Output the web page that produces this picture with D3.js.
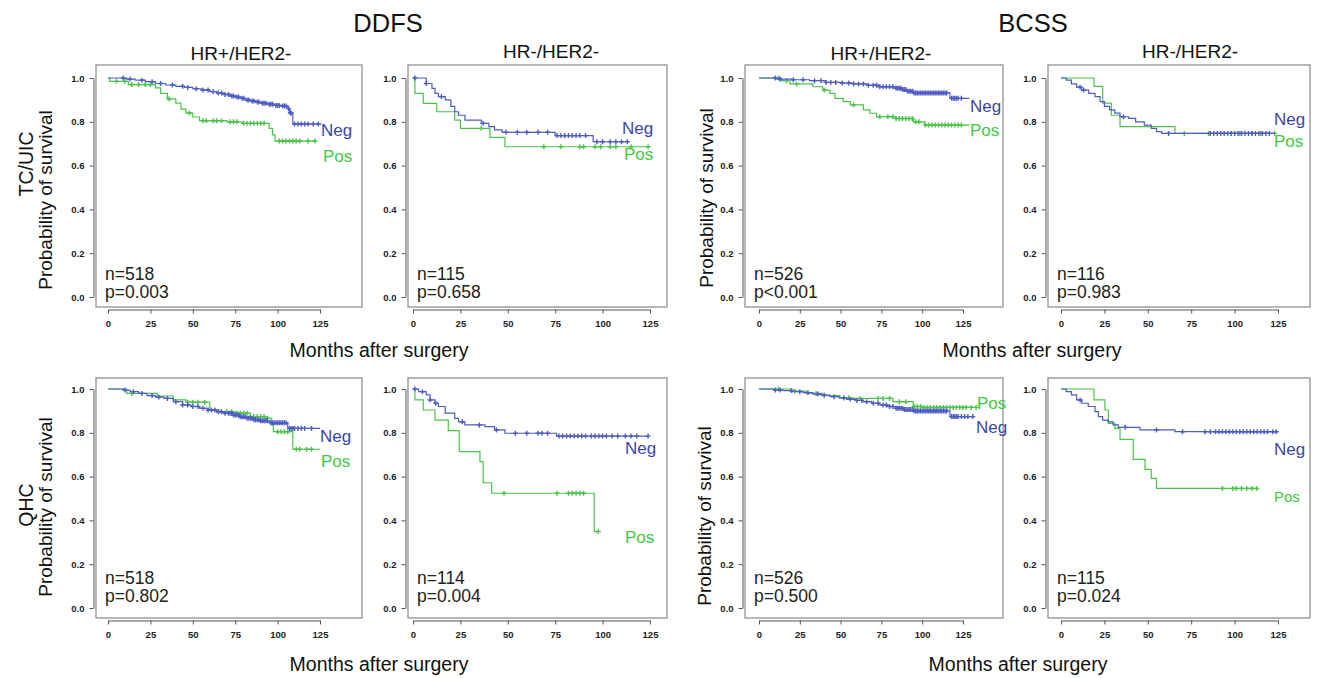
<!DOCTYPE html>
<html>
<head>
<meta charset="utf-8">
<script src="https://cdn.jsdelivr.net/npm/d3@7"></script>
<style>
  body { margin: 0; background: #fff; }
  text { font-family: "Liberation Sans", Arial, sans-serif; }
  .axis text { font-weight: bold; font-size: 9.5px; fill: #222; }
  .axis path, .axis line { stroke: #555; }
</style>
</head>
<body>
<div id="chart"></div>
<script>

// ---- data: step points [month, survival], then censor months ----
var p1Neg = [[0,1],[11,0.995],[16,0.99],[22,0.983],[28,0.975],[34,0.968],[40,0.962],[45,0.957],[50,0.951],[55,0.945],[60,0.938],[64,0.931],[68,0.925],[72,0.918],[75,0.913],[78,0.907],[81,0.9],[84,0.895],[87,0.89],[90,0.885],[94,0.88],[98,0.875],[102,0.872],[106,0.86],[107,0.84],[109,0.79],[126,0.79]];
var p1NegCens = [9,13,20,26,31,38,44,47,52,56,59,62,65,67,69,71,73,74,76,77,79,80,82,83,85,86,88,89,91,92,93,95,96,97,99,100,101,103,104,105,106.5,107.5,108,110,112,114,116,118,121,124];
var p1Pos = [[0,1],[1,0.985],[12,0.97],[28,0.955],[31,0.93],[35,0.905],[40,0.885],[43,0.858],[46,0.84],[50,0.822],[54,0.805],[70,0.8],[79,0.793],[95,0.77],[97,0.74],[98.5,0.712],[122,0.712]];
var p1PosCens = [5,10,14,18,22,25,36,48,56,58,62,64,67,72,74,76,80,82,84,86,88,90,92,101,103,105,107,109,111,113,118,122];

var p2Neg = [[0,1],[7,0.975],[10,0.953],[11.6,0.93],[13.4,0.915],[17,0.9],[20,0.87],[22,0.846],[24,0.83],[27.4,0.808],[36,0.793],[40,0.778],[43,0.763],[47,0.752],[75,0.737],[95,0.709],[113.5,0.709]];
var p2NegCens = [1,7,15,37,49,55,60,66,71,76,78,80,82,84,86,88,91,97,100,104,107,110,113];
var p2Pos = [[0,1],[1,0.93],[5.4,0.884],[12.5,0.846],[22,0.808],[25,0.77],[40.6,0.729],[48.5,0.686],[124,0.686]];
var p2PosCens = [36,69,78,88,90,96,99,104,107,115,124];

var p3Neg = [[0,1],[11,0.995],[20,0.992],[31,0.988],[41,0.98],[50,0.977],[58,0.973],[66,0.967],[74,0.96],[84,0.953],[88,0.947],[91,0.94],[94.5,0.932],[116,0.932],[117,0.907],[129,0.907]];
var p3NegCens = [10,13,21,27,34,38,41,44,47,51,55,58,61,64,67,70,72,74,76,78,80,82,84,85,86,87,88,89,90,91,92,93,94,95,96,97,98,99,100,101,102,103,104,105,106,107,108,109,110,111,112,113,114,115,118,119,120,121,122,124];
var p3Pos = [[0,1],[13,0.988],[19,0.973],[33,0.96],[39,0.945],[43.5,0.93],[46.5,0.907],[51.6,0.892],[56,0.877],[64,0.854],[68,0.839],[72,0.823],[84,0.815],[94.5,0.8],[101.6,0.785],[129,0.785]];
var p3PosCens = [12,17,23,40,58,74,79,82,84,86,88,90,92,94,96,98,102,104,106,108,110,112,114,116,118,120,122,124];

var p4Neg = [[0,1],[3,0.99],[6,0.973],[9,0.958],[12,0.945],[16,0.93],[19.6,0.915],[22.5,0.892],[25,0.87],[28,0.854],[31,0.84],[34,0.823],[39,0.816],[43,0.8],[48,0.785],[52,0.77],[55,0.755],[58,0.747],[123,0.747]];
var p4NegCens = [11,13,36,62,86,88,90,92,94,96,98,100,102,104,106,108,110,112,114,116,118,120];
var p4Pos = [[0,1],[19,0.962],[24,0.885],[29,0.83],[34,0.778],[65.6,0.747],[123,0.747]];
var p4PosCens = [71,85,98,103,110,115,123];

var p5Neg = [[0,1],[9,0.995],[13,0.988],[18,0.98],[23,0.97],[28,0.963],[33,0.957],[38.5,0.942],[44,0.927],[49,0.92],[54,0.912],[59,0.904],[64,0.896],[69,0.889],[74,0.881],[78,0.873],[82,0.866],[86,0.86],[90,0.855],[95.5,0.846],[106,0.82],[125,0.82]];
var p5NegCens = [10,15,20,26,30,35,40,44,47,50,53,56,59,61,63,65,67,69,71,72,73,74,75,76,77,78,79,80,81,82,83,84,85,86,87,88,89,90,91,92,93,94,96,97,98,99,100,101,102,103,104,105,107,108,109,110,112,114,116,120];
var p5Pos = [[0,1],[11,0.98],[29,0.968],[38.5,0.95],[46,0.94],[60,0.904],[66,0.896],[76,0.889],[84,0.874],[93.5,0.866],[96.5,0.836],[97.5,0.805],[109,0.725],[125,0.725]];
var p5PosCens = [14,47,50,53,57,70,73,76,78,80,82,84,86,88,90,92,94,100,102,104,106,111,113,117,120];

var p6Neg = [[0,1],[3,0.988],[7,0.973],[9,0.95],[11.6,0.935],[13.4,0.92],[17,0.89],[22,0.866],[24,0.85],[27.4,0.836],[38,0.828],[43,0.813],[48.5,0.798],[75.7,0.785],[124,0.785]];
var p6NegCens = [1,5,9,12,26,35,44,54,60,66,68,71,77,79,81,83,85,87,89,91,94,96,98,100,102,105,108,112,115,118,124];
var p6Pos = [[0,1],[1,0.95],[5.4,0.904],[11.6,0.858],[18.6,0.81],[24.4,0.714],[35.3,0.668],[37,0.572],[41.5,0.524],[95.6,0.349],[97.7,0.349]];
var p6PosCens = [48,76,82,84,86,88,90,97.7];

var p7Neg = [[0,1],[9,0.995],[15,0.993],[21,0.988],[27,0.983],[33,0.977],[38,0.972],[43.5,0.965],[49,0.959],[53.7,0.953],[59,0.948],[64,0.942],[69,0.935],[74,0.927],[79,0.92],[84,0.912],[89,0.906],[94.5,0.9],[116,0.9],[117,0.874],[131,0.874]];
var p7NegCens = [10,13,20,25,30,36,40,46,52,56,60,63,66,70,73,76,78,80,82,84,85,86,87,88,89,90,91,92,93,94,95,96,97,98,99,100,101,102,103,104,105,106,107,108,109,110,111,112,113,114,115,118,119,120,121,122,124,126,128,131];
var p7Pos = [[0,1],[19,0.99],[29,0.98],[39,0.97],[49.6,0.96],[57.8,0.957],[82,0.942],[94.5,0.92],[100.6,0.916],[133,0.916]];
var p7PosCens = [12,22,35,55,62,73,76,80,86,90,95,97,99,101,103,105,107,109,111,113,115,117,119,121,123,125,127,130,133];

var p8Neg = [[0,1],[3,0.988],[6,0.973],[9,0.95],[12,0.935],[15.7,0.92],[19.6,0.897],[21.5,0.874],[24,0.858],[27,0.85],[30,0.836],[33,0.825],[45.5,0.813],[65.6,0.805],[124,0.805]];
var p8NegCens = [11,37,55,70,83,86,89,91,93,95,97,99,101,103,105,107,109,111,113,115,117,119,122,124];
var p8Pos = [[0,1],[19,0.95],[25.3,0.904],[27.3,0.843],[31,0.82],[34,0.77],[41.6,0.679],[48.4,0.633],[52,0.592],[55,0.546],[112.7,0.546]];
var p8PosCens = [93,99,101,104,107,110,112.7];

var nLabels = ["n=518", "n=115", "n=526", "n=116", "n=518", "n=114", "n=526", "n=115"];
var pLabels = ["p=0.003", "p=0.658", "p<0.001", "p=0.983", "p=0.802", "p=0.004", "p=0.500", "p=0.024"];
var xTicks = [0, 25, 50, 75, 100, 125];
var yTicks = [0, 0.2, 0.4, 0.6, 0.8, 1.0];

var negColor = "#4e5cc2", posColor = "#4cc34c";
var negText = "#3c46a8", posText = "#43c843";

var svg = d3.select("#chart").append("svg")
    .attr("width", 1317)
    .attr("height", 678);

// frame box, x range (0..125), y range (0..1), label spots
var panels = [
  {neg: p1Neg, negC: p1NegCens, pos: p1Pos, posC: p1PosCens, fx: [96, 362], fy: [65, 307], xr: [108, 320], yr: [297, 78], negAt: [321, 136], posAt: [323, 162], posSize: 17},
  {neg: p2Neg, negC: p2NegCens, pos: p2Pos, posC: p2PosCens, fx: [408, 667], fy: [65, 307], xr: [413, 650], yr: [297, 78], negAt: [622, 134], posAt: [624, 160], posSize: 17},
  {neg: p3Neg, negC: p3NegCens, pos: p3Pos, posC: p3PosCens, fx: [745, 1003], fy: [65, 307], xr: [759, 963], yr: [297, 78], negAt: [970, 112], posAt: [970, 136], posSize: 17},
  {neg: p4Neg, negC: p4NegCens, pos: p4Pos, posC: p4PosCens, fx: [1048, 1310], fy: [65, 307], xr: [1061, 1278], yr: [297, 78], negAt: [1274, 125], posAt: [1274, 147], posSize: 17},
  {neg: p5Neg, negC: p5NegCens, pos: p5Pos, posC: p5PosCens, fx: [96, 362], fy: [378, 618], xr: [108, 320], yr: [608, 389], negAt: [320, 442], posAt: [321, 467], posSize: 17},
  {neg: p6Neg, negC: p6NegCens, pos: p6Pos, posC: p6PosCens, fx: [408, 667], fy: [378, 618], xr: [413, 650], yr: [608, 389], negAt: [625, 454], posAt: [625, 543], posSize: 17},
  {neg: p7Neg, negC: p7NegCens, pos: p7Pos, posC: p7PosCens, fx: [745, 1003], fy: [378, 618], xr: [759, 963], yr: [608, 389], negAt: [976, 433], posAt: [977, 409], posSize: 17},
  {neg: p8Neg, negC: p8NegCens, pos: p8Pos, posC: p8PosCens, fx: [1048, 1310], fy: [378, 618], xr: [1061, 1278], yr: [608, 389], negAt: [1274, 455], posAt: [1274, 502], posSize: 15}
];

function survAt(steps, t) {
  var s = 1;
  steps.forEach(function(d) { if (d[0] <= t) s = d[1]; });
  return s;
}

var cross = "M-2.5,0h5M0,-2.5v5";

panels.forEach(function(p, i) {
  var x = d3.scaleLinear().domain([0, 125]).range(p.xr);
  var y = d3.scaleLinear().domain([0, 1]).range(p.yr);
  var g = svg.append("g");

  g.append("rect")
      .attr("x", p.fx[0]).attr("y", p.fy[0])
      .attr("width", p.fx[1] - p.fx[0]).attr("height", p.fy[1] - p.fy[0])
      .attr("fill", "none").attr("stroke", "#9a9a9a").attr("stroke-width", 1.4);

  g.append("g")
      .attr("class", "axis")
      .attr("transform", "translate(" + (p.fx[0] - 2.5) + ",0)")
      .call(d3.axisLeft(y).tickValues(yTicks).tickFormat(d3.format(".1f")).tickSize(4).tickSizeOuter(0).tickPadding(5));

  g.append("g")
      .attr("class", "axis")
      .attr("transform", "translate(0," + (p.fy[1] + 2.5) + ")")
      .call(d3.axisBottom(x).tickValues(xTicks).tickSize(4).tickSizeOuter(0).tickPadding(7));

  var line = d3.line()
      .x(function(d) { return x(d[0]); })
      .y(function(d) { return y(d[1]); })
      .curve(d3.curveStepAfter);

  // pos first so neg sits on top
  [[p.pos, p.posC, posColor], [p.neg, p.negC, negColor]].forEach(function(s) {
    g.append("path")
        .datum(s[0])
        .attr("d", line)
        .attr("fill", "none")
        .attr("stroke", s[2])
        .attr("stroke-width", 1.2);

    g.selectAll(null)
        .data(s[1])
      .enter().append("path")
        .attr("d", cross)
        .attr("transform", function(t) { return "translate(" + x(t) + "," + y(survAt(s[0], t)) + ")"; })
        .attr("stroke", s[2])
        .attr("stroke-width", 1.4);
  });

  g.append("text")
      .attr("x", p.negAt[0]).attr("y", p.negAt[1])
      .style("font-size", "17px").attr("fill", negText)
      .text("Neg");
  g.append("text")
      .attr("x", p.posAt[0]).attr("y", p.posAt[1])
      .style("font-size", p.posSize + "px").attr("fill", posText)
      .text("Pos");

  var base = i < 4 ? 280 : 584;
  g.append("text")
      .attr("x", p.fx[0] + 9).attr("y", base)
      .style("font-size", "17.5px").attr("fill", "#222")
      .text(nLabels[i]);
  g.append("text")
      .attr("x", p.fx[0] + 9).attr("y", base + 18)
      .style("font-size", "17.5px").attr("fill", "#222")
      .text(pLabels[i]);
});

// headings
function label(txt, x, y, size, rot) {
  svg.append("text")
      .attr("transform", "translate(" + x + "," + y + ")" + (rot ? " rotate(-90)" : ""))
      .attr("text-anchor", "middle")
      .style("font-size", size + "px")
      .attr("fill", "#111")
      .text(txt);
}

label("DDFS", 388, 32, 25.5);
label("BCSS", 1033, 32, 25.5);
label("HR+/HER2-", 241, 60, 19);
label("HR-/HER2-", 551, 58, 19);
label("HR+/HER2-", 881, 60, 19);
label("HR-/HER2-", 1190, 58, 19);

label("Months after surgery", 379, 357, 19.5);
label("Months after surgery", 1032, 357, 19.5);
label("Months after surgery", 379, 671, 19.5);
label("Months after surgery", 1018, 671, 19.5);

label("TC/UIC", 33, 164, 19.5, true);
label("QHC", 33, 505, 19.5, true);
label("Probability of survival", 52, 200, 19, true);
label("Probability of survival", 52, 507, 19, true);
label("Probability of survival", 713, 198, 19, true);
label("Probability of survival", 711, 516, 19, true);

</script>
</body>
</html>
